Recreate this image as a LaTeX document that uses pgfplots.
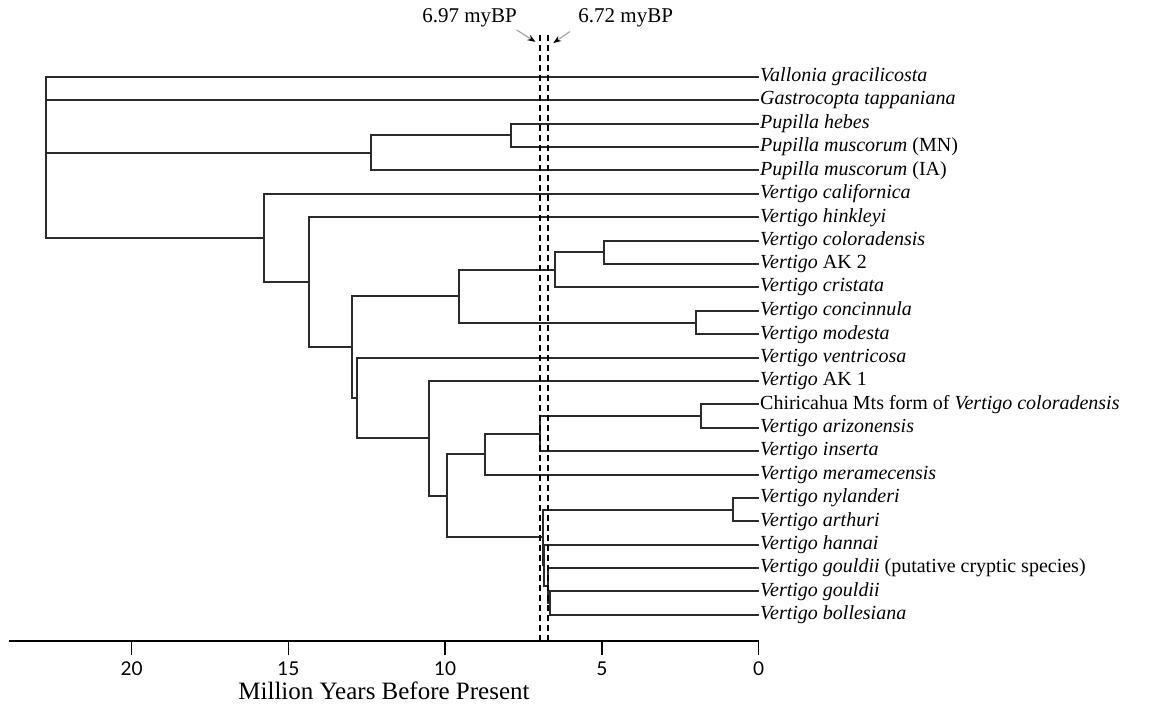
\documentclass[border=0pt]{standalone}
\usepackage{pgfplots}
\pgfplotsset{compat=1.18}
\usepackage{fontspec}
\setmainfont{Liberation Serif}
\newfontfamily\ticksans{Lato}
\usetikzlibrary{arrows.meta}

\definecolor{branch}{HTML}{2B2B2B}
\newcommand{\taxon}[2]{\node[anchor=west, inner sep=0.6pt, font=\fontsize{10}{12}\selectfont] at (axis cs:0,#1) {#2};}

\begin{document}
\begin{tikzpicture}
\begin{axis}[
  scale only axis, width=374.6pt, height=303pt,
  x dir=reverse, xmin=0, xmax=23.9, ymin=-24.11, ymax=1.8,
  axis x line*=bottom, axis y line=none,
  axis line style={black, line width=0.8pt},
  xtick={0,5,10,15,20}, tick align=outside, major tick length=7pt,
  tick style={black, line width=0.8pt},
  xticklabel style={font=\ticksans\fontsize{9.5}{11}\selectfont},
  /pgf/number format/assume math mode=true,
  clip=false,
  tree/.style={branch, line width=1pt, mark=none},
]
% Pupilla
\addplot[tree] coordinates {(0,-2) (7.9,-2) (7.9,-3) (0,-3)};
\addplot[tree] coordinates {(7.9,-2.5) (12.37,-2.5) (12.37,-4) (0,-4)};
% coloradensis group
\addplot[tree] coordinates {(0,-7) (4.94,-7) (4.94,-8) (0,-8)};
\addplot[tree] coordinates {(4.94,-7.5) (6.49,-7.5) (6.49,-9) (0,-9)};
\addplot[tree] coordinates {(0,-10) (2.0,-10) (2.0,-11) (0,-11)};
\addplot[tree] coordinates {(6.49,-8.25) (9.57,-8.25) (9.57,-10.5) (2.0,-10.5)};
% arizonensis group
\addplot[tree] coordinates {(0,-14) (1.83,-14) (1.83,-15) (0,-15)};
\addplot[tree] coordinates {(1.83,-14.5) (6.97,-14.5) (6.97,-16) (0,-16)};
\addplot[tree] coordinates {(6.97,-15.25) (8.72,-15.25) (8.72,-17) (0,-17)};
% gouldii group
\addplot[tree] coordinates {(0,-18) (0.81,-18) (0.81,-19) (0,-19)};
\addplot[tree] coordinates {(0,-22) (6.66,-22) (6.66,-23) (0,-23)};
\addplot[tree] coordinates {(0,-21) (6.72,-21) (6.72,-22.5) (6.66,-22.5)};
\addplot[tree] coordinates {(0,-20) (6.84,-20) (6.84,-21.75) (6.72,-21.75)};
\addplot[tree] coordinates {(0.81,-18.5) (6.88,-18.5) (6.88,-20.875) (6.84,-20.875)};
\addplot[tree] coordinates {(8.72,-16.125) (9.94,-16.125) (9.94,-19.6875) (6.88,-19.6875)};
% deeper Vertigo nodes
\addplot[tree] coordinates {(0,-13) (10.53,-13) (10.53,-17.906) (9.94,-17.906)};
\addplot[tree] coordinates {(0,-12) (12.8,-12) (12.8,-15.453) (10.53,-15.453)};
\addplot[tree] coordinates {(9.57,-9.375) (12.96,-9.375) (12.96,-13.727) (12.8,-13.727)};
\addplot[tree] coordinates {(0,-6) (14.35,-6) (14.35,-11.551) (12.96,-11.551)};
\addplot[tree] coordinates {(0,-5) (15.77,-5) (15.77,-8.775) (14.35,-8.775)};
% root
\addplot[tree] coordinates {(0,0) (22.73,0) (22.73,-6.888) (15.77,-6.888)};
\addplot[tree] coordinates {(0,-1) (22.73,-1)};
\addplot[tree] coordinates {(12.37,-3.25) (22.73,-3.25)};
% divergence dates
\addplot[black, line width=1pt, dash pattern=on 3pt off 2pt] coordinates {(6.97,1.8) (6.97,-24.11)};
\addplot[black, line width=1pt, dash pattern=on 3pt off 2pt] coordinates {(6.72,1.8) (6.72,-24.11)};
\draw[black!35, line width=0.6pt, -{Stealth[black, length=4pt, width=3pt]}] (axis cs:7.72,2.01) -- (axis cs:7.12,1.5);
\draw[black!35, line width=0.6pt, -{Stealth[black, length=4pt, width=3pt]}] (axis cs:6.02,1.94) -- (axis cs:6.55,1.45);
\node[anchor=east, inner sep=0pt, font=\fontsize{10.5}{12}\selectfont] at (axis cs:7.7,2.52) {6.97 myBP};
\node[anchor=west, inner sep=0pt, font=\fontsize{10.5}{12}\selectfont] at (axis cs:5.76,2.52) {6.72 myBP};
% tip labels
\taxon{0}{\textit{Vallonia gracilicosta}}
\taxon{-1}{\textit{Gastrocopta tappaniana}}
\taxon{-2}{\textit{Pupilla hebes}}
\taxon{-3}{\textit{Pupilla muscorum} (MN)}
\taxon{-4}{\textit{Pupilla muscorum} (IA)}
\taxon{-5}{\textit{Vertigo californica}}
\taxon{-6}{\textit{Vertigo hinkleyi}}
\taxon{-7}{\textit{Vertigo coloradensis}}
\taxon{-8}{\textit{Vertigo} AK 2}
\taxon{-9}{\textit{Vertigo cristata}}
\taxon{-10}{\textit{Vertigo concinnula}}
\taxon{-11}{\textit{Vertigo modesta}}
\taxon{-12}{\textit{Vertigo ventricosa}}
\taxon{-13}{\textit{Vertigo} AK 1}
\taxon{-14}{Chiricahua Mts form of \textit{Vertigo coloradensis}}
\taxon{-15}{\textit{Vertigo arizonensis}}
\taxon{-16}{\textit{Vertigo inserta}}
\taxon{-17}{\textit{Vertigo meramecensis}}
\taxon{-18}{\textit{Vertigo nylanderi}}
\taxon{-19}{\textit{Vertigo arthuri}}
\taxon{-20}{\textit{Vertigo hannai}}
\taxon{-21}{\textit{Vertigo gouldii} (putative cryptic species)}
\taxon{-22}{\textit{Vertigo gouldii}}
\taxon{-23}{\textit{Vertigo bollesiana}}
\node[font=\fontsize{12.5}{15}\selectfont] at (axis cs:11.95,-26.25) {Million Years Before Present};
\coordinate (bbsw) at (axis cs:24.2,-27.1);
\coordinate (bbne) at (axis cs:-12.55,3.29);
\end{axis}
\pgfresetboundingbox
\path (bbsw) rectangle (bbne);
\end{tikzpicture}
\end{document}
